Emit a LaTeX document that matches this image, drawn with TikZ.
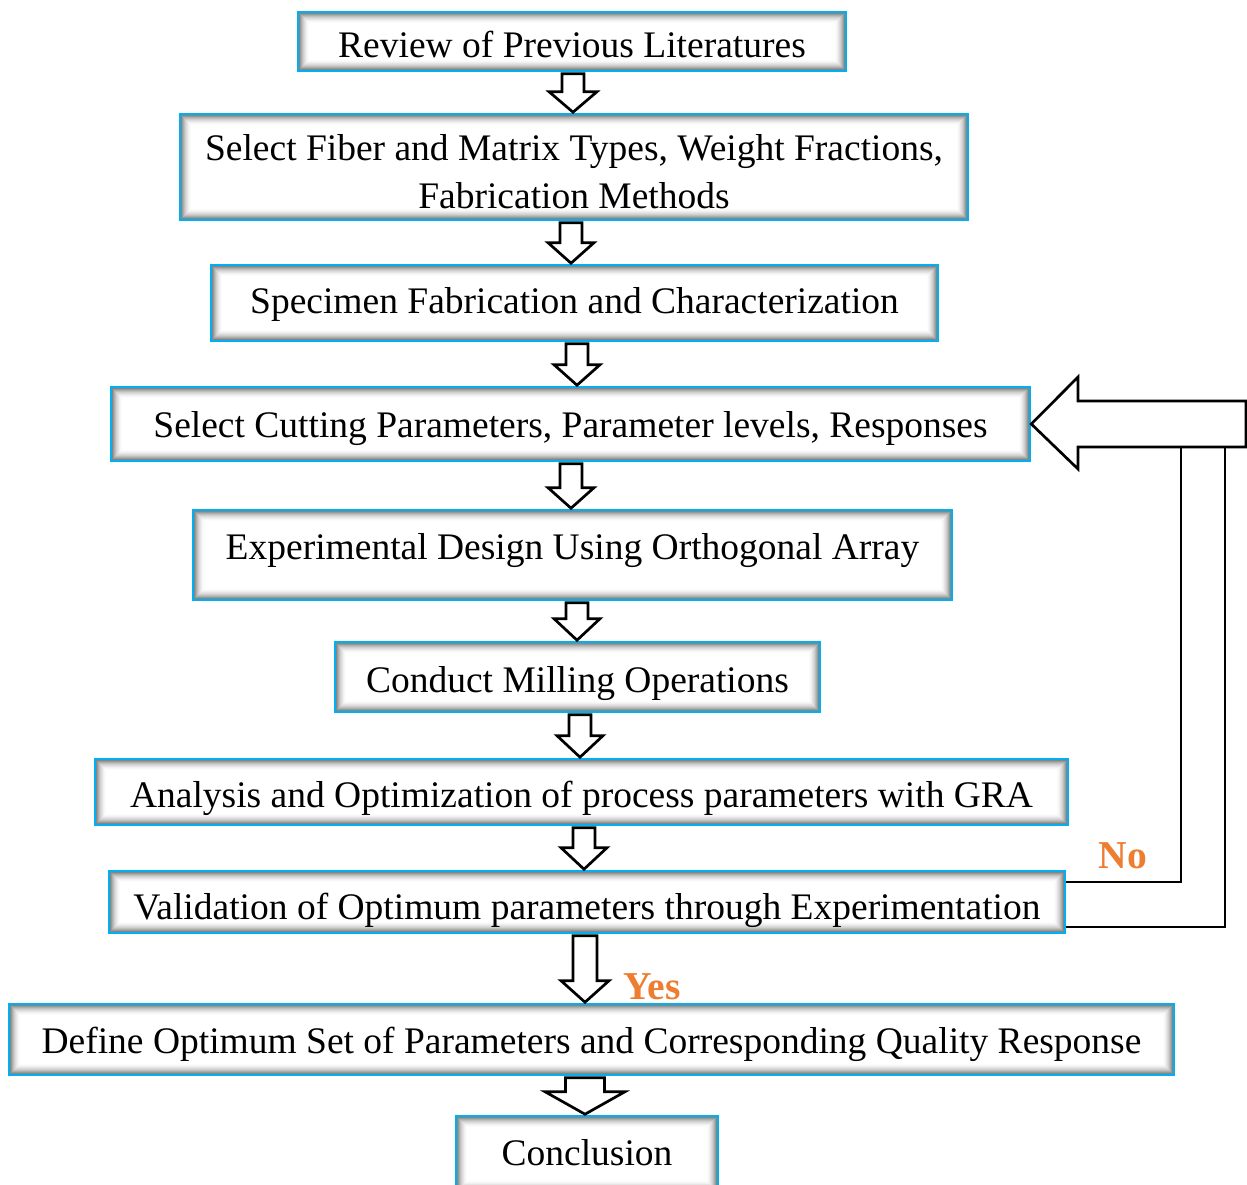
\documentclass[tikz,border=0pt]{standalone}
\usepackage{fontspec}
\setmainfont{Liberation Serif}
\usetikzlibrary{calc}
\definecolor{boxcyan}{RGB}{0,176,240}
\definecolor{labelorange}{RGB}{237,125,49}
% hollow block arrow: from node, to node, x, shaft half width, head half width, head length
\newcommand{\flowarrow}[6]{%
  \draw[hollow] let \p1=(#3,0), \p2=(#1.south), \p3=(#2.north) in
    ({\x1-#4pt},{\y2-1.5pt}) -- ({\x1-#4pt},{\y3+#6pt}) -- ({\x1-#5pt},{\y3+#6pt})
    -- (\x1,{\y3+0.5pt}) -- ({\x1+#5pt},{\y3+#6pt}) -- ({\x1+#4pt},{\y3+#6pt})
    -- ({\x1+#4pt},{\y2-1.5pt}) -- cycle;}

\begin{document}
\begin{tikzpicture}[x=1pt,y=-1pt,line join=miter,
    stage/.style={draw=boxcyan,line width=2.6pt,fill=white,inner sep=0pt,align=center,
      text depth=8pt,font=\fontsize{37.5}{48}\selectfont,
      path picture={
        \foreach \i in {0,...,11}{
          \pgfmathtruncatemacro{\g}{58*(1-\i/12)^2}
          \fill[black!\g] ([shift={(\i*1pt,-\i*1pt)}]path picture bounding box.north west)
            rectangle ([shift={(-\i*1pt,\i*1pt)}]path picture bounding box.south east);
        }
        \fill[white] ([shift={(12pt,-12pt)}]path picture bounding box.north west)
          rectangle ([shift={(-12pt,12pt)}]path picture bounding box.south east);
      }},
    hollow/.style={draw=black,line width=2.7pt,fill=white},
    loopline/.style={draw=black,line width=2.7pt},
    answer/.style={text=labelorange,font=\fontsize{39.5}{44}\selectfont\bfseries}]
  \useasboundingbox (0,0) rectangle (1247,1184);

  \node[stage,minimum width=548,minimum height=59,text height=40pt] (review) at (572,41.5) {Review of Previous Literatures};
  \node[stage,minimum width=788,minimum height=106,text depth={}] (fiber) at (574,167) {\rule{0pt}{36pt}Select Fiber and Matrix Types, Weight Fractions,\\Fabrication Methods};
  \node[stage,minimum width=727,minimum height=76,text height=28pt] (specimen) at (574.5,303) {Specimen Fabrication and Characterization};
  \node[stage,minimum width=919,minimum height=74,text height=34pt] (cutting) at (570.5,424) {Select Cutting Parameters, Parameter levels, Responses};
  \node[stage,minimum width=759,minimum height=90,text height=16pt] (design) at (572.5,555) {Experimental Design Using Orthogonal Array};
  \node[stage,minimum width=485,minimum height=70,text height=38pt] (milling) at (577.5,677) {Conduct Milling Operations};
  \node[stage,minimum width=973,minimum height=66,text height=38pt] (analysis) at (581.5,792) {Analysis and Optimization of process parameters with GRA};
  \node[stage,minimum width=956,minimum height=62,text height=42pt] (valid) at (587,902) {Validation of Optimum parameters through Experimentation};
  \node[stage,minimum width=1165,minimum height=71,text height=36pt] (optimum) at (591.5,1039.5) {Define Optimum Set of Parameters and Corresponding Quality Response};
  \node[stage,minimum width=262,minimum height=76,text height=30pt] (concl) at (587,1154) {Conclusion};

  \flowarrow{review}{fiber}{573}{11}{24}{21}
  \flowarrow{fiber}{specimen}{571}{11}{23}{21}
  \flowarrow{specimen}{cutting}{577}{11}{23}{21}
  \flowarrow{cutting}{design}{571}{11}{23}{21}
  \flowarrow{design}{milling}{577}{11}{23}{22}
  \flowarrow{milling}{analysis}{580}{11}{23}{22}
  \flowarrow{analysis}{valid}{584}{11}{23}{22}
  \flowarrow{valid}{optimum}{585}{12}{24}{22}
  \flowarrow{optimum}{concl}{585}{19.5}{40}{23}

  % loop back when validation fails
  \draw[loopline] (valid.east |- 0,882) -- (1181,882) -- (1181,447);
  \draw[loopline] (valid.east |- 0,927) -- (1225,927) -- (1225,447);
  \draw[hollow] (cutting.east) -- (1078,377) -- (1078,401) -- (1246,401) -- (1246,447)
    -- (1078,447) -- (1078,469) -- cycle;

  \node[answer] (no) at (1123,856) {No};
  \node[answer] (yes) at (652,987) {Yes};
\end{tikzpicture}
\end{document}
